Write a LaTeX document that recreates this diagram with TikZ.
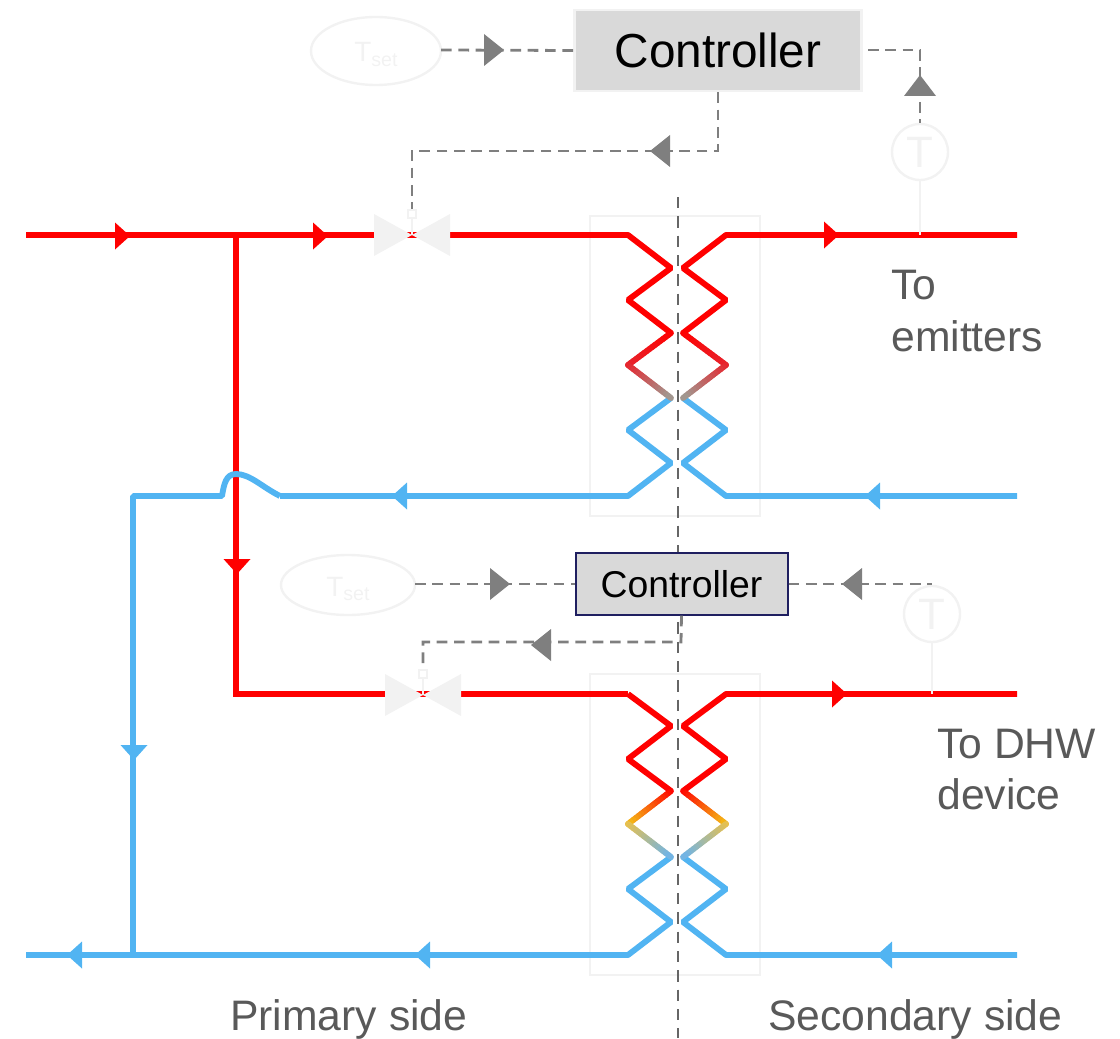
\documentclass[tikz,border=0pt]{standalone}
\usepackage{fontspec}
\setmainfont{Liberation Sans}
\usetikzlibrary{calc}
\definecolor{pipered}{HTML}{FF0000}
\definecolor{pipeblue}{HTML}{51B4F2}
\definecolor{ghost}{HTML}{F2F2F2}
\definecolor{ctlgray}{HTML}{D9D9D9}
\definecolor{sig}{HTML}{7F7F7F}
\definecolor{axisc}{HTML}{666666}
\definecolor{lab}{HTML}{595959}
\definecolor{navy}{HTML}{1F1F60}
\definecolor{warm}{HTML}{F4B916}
\definecolor{warmb}{HTML}{EAC04A}
\definecolor{hotm}{HTML}{E8222B}
\definecolor{midg}{HTML}{A09A92}
\definecolor{coolb}{HTML}{6FB4E8}
\newcommand{\RA}[3]{\fill[#3] (#1,#2) -- ++(-15,-13.5) -- ++(0,27) -- cycle;}
\newcommand{\LA}[3]{\fill[#3] (#1,#2) -- ++(15,-13.5) -- ++(0,27) -- cycle;}
\newcommand{\DA}[3]{\fill[#3] (#1,#2) -- ++(-13.5,-15) -- ++(27,0) -- cycle;}
\newcommand{\GR}[2]{\fill[sig] (#1,#2) -- ++(-20,-16) -- ++(0,32) -- cycle;}
\newcommand{\GL}[2]{\fill[sig] (#1,#2) -- ++(20,-16) -- ++(0,32) -- cycle;}
\newcommand{\GU}[2]{\fill[sig] (#1,#2) -- ++(-16,21) -- ++(32,0) -- cycle;}
\newcommand{\gradseg}[6]{%
  \foreach \i in {0,...,15}{%
    \pgfmathsetmacro{\ta}{\i/16}\pgfmathsetmacro{\tb}{(\i+1)/16}\pgfmathsetmacro{\pc}{100*(\i+0.5)/16}%
    \colorlet{segc}{#6!\pc!#5}%
    \draw[pipe,segc,line cap=round] ($(#1,#2)!\ta!(#3,#4)$) -- ($(#1,#2)!\tb!(#3,#4)$);
  }}
\newcommand{\valve}[3]{%
  \fill[ghost] (#1,#2) -- ++(-38,-21) -- ++(0,42) -- cycle;
  \fill[ghost] (#1,#2) -- ++(38,-21) -- ++(0,42) -- cycle;
  \draw[ghostline] (#1,#2) -- (#1,#2-16);
  \node[draw=ghost,fill=white,line width=1.5pt,minimum size=6pt,inner sep=0pt] (#3) at (#1,#2-21) {};}
\tikzset{
  x=0.75pt,y=-0.75pt,
  pipe/.style={line width=4.4pt,line join=bevel},
  hot/.style={pipe,pipered},
  cold/.style={pipe,pipeblue},
  signal/.style={sig,line width=2.1pt,dash pattern=on 8pt off 5pt},
  ghostline/.style={ghost,line width=1.8pt},
  hxbox/.style={ghost,line width=1.8pt},
  centre/.style={axisc,line width=2.1pt,dash pattern=on 8.5pt off 6pt},
  lbl/.style={anchor=base west,inner sep=0pt,lab,font=\fontsize{32}{36}\selectfont},
}
\begin{document}
\begin{tikzpicture}
\useasboundingbox (0,0) rectangle (1120,1038);
% heat-exchanger frames
\draw[hxbox] (590,216) rectangle (760,516);
\draw[hxbox] (590,674) rectangle (760,975);
% centre line
\coordinate (axT) at (678,197); \coordinate (axB) at (678,1038);
\draw[centre] (axT) -- (axB);
% red pipes
\coordinate (hotin) at (26,235); \coordinate (tee) at (236,235);
\coordinate (hx1a) at (628,235); \coordinate (hx1b) at (726,235); \coordinate (hotout1) at (1017,235);
\coordinate (corner) at (236,694); \coordinate (hx2a) at (628,694); \coordinate (hx2b) at (726,694); \coordinate (hotout2) at (1017,694);
\draw[hot] (hotin) -- (hx1a) -- (671,268) -- (628,300) -- (671,333);
\draw[hot] (hotout1) -- (hx1b) -- (683,268) -- (726,300) -- (683,333);
\draw[hot,line join=miter] (tee) -- (corner) -- (hx2a);
\draw[hot] (hx2a) -- (671,726) -- (628,759) -- (671,791);
\draw[hot] (hotout2) -- (hx2b) -- (683,726) -- (726,759) -- (683,791);
% blue pipes
\coordinate (coldin1) at (1017,496); \coordinate (hx1d) at (726,496); \coordinate (hx1c) at (628,496);
\coordinate (bumpA) at (280,496); \coordinate (bumpB) at (222,496); \coordinate (riser) at (133,496); \coordinate (rbase) at (133,955);
\coordinate (coldin2) at (1017,955); \coordinate (hx2d) at (726,955); \coordinate (hx2c) at (628,955); \coordinate (coldout) at (26,955);
\draw[cold] (coldin1) -- (hx1d) -- (683,463) -- (726,430) -- (683,398);
\draw[cold] (671,398) -- (628,430) -- (671,463) -- (hx1c) -- (bumpA);
\draw[cold] (bumpA) .. controls (262,487) and (250,474) .. (236,474) .. controls (226,474) and (224,484) .. (bumpB) -- (riser) -- (rbase);
\draw[cold] (coldin2) -- (hx2d) -- (683,922) -- (726,889) -- (683,857);
\draw[cold] (671,857) -- (628,889) -- (671,922) -- (hx2c) -- (coldout);
% blended coil segments
\gradseg{671}{333}{628}{365}{pipered}{hotm}
\gradseg{628}{365}{671}{398}{hotm}{midg}
\gradseg{683}{333}{726}{365}{pipered}{hotm}
\gradseg{726}{365}{683}{398}{hotm}{midg}
\gradseg{671}{791}{628}{824}{pipered}{warm}
\gradseg{628}{824}{671}{857}{warmb}{coolb}
\gradseg{683}{791}{726}{824}{pipered}{warm}
\gradseg{726}{824}{683}{857}{warmb}{coolb}
% flow arrows
\RA{130}{236}{pipered} \RA{328}{236}{pipered} \RA{839}{235}{pipered} \RA{847}{694}{pipered}
\DA{237}{574}{pipered}
\LA{392}{496}{pipeblue} \LA{865}{496}{pipeblue} \LA{415}{955}{pipeblue} \LA{67}{955}{pipeblue} \LA{877}{955}{pipeblue}
\DA{134}{760}{pipeblue}
% controllers
\node[draw=ghost,fill=ctlgray,line width=1.8pt,minimum width=215pt,minimum height=61pt,inner sep=0pt,font=\fontsize{35.8}{40}\selectfont] (ctlA) at (718,50.5) {Controller};
\node[draw=navy,fill=ctlgray,line width=1.5pt,minimum width=159pt,minimum height=46pt,inner sep=0pt,font=\fontsize{28}{32}\selectfont] (ctlB) at (681.5,584) {Controller};
% set-points
\draw[ghostline] (376,51) ellipse [x radius=65,y radius=34];
\draw[ghostline] (348,585) ellipse [x radius=67,y radius=30];
\node[ghost,inner sep=0pt,anchor=base west,font=\fontsize{21}{24}\selectfont] (tsetA) at (354,62) {T\textsubscript{set}};
\node[ghost,inner sep=0pt,anchor=base west,font=\fontsize{21}{24}\selectfont] (tsetB) at (326,596) {T\textsubscript{set}};
\coordinate (setA) at (441,50); \coordinate (setB) at (415,584);
% temperature sensors
\node[draw=ghost,line width=1.8pt,circle,minimum size=42pt,inner sep=0pt,text=ghost,font=\fontsize{33}{36}\selectfont] (sensA) at (920,152) {T};
\node[draw=ghost,line width=1.8pt,circle,minimum size=42pt,inner sep=0pt,text=ghost,font=\fontsize{33}{36}\selectfont] (sensB) at (932,614) {T};
\coordinate (tapA) at (920,235); \coordinate (tapB) at (932,694);
\draw[ghostline] (sensA) -- (tapA);
\draw[ghostline] (sensB) -- (tapB);
% valves
\valve{412}{235}{valveA}
\valve{423}{695}{valveB}
% control signals
\draw[signal] (setA) -- (ctlA.west);
\GR{504}{50}
\draw[signal] (868,50) -- (920,50) -- (sensA.north);
\GU{920}{75}
\draw[signal] (ctlA.south) -- (718,151) -- (412,151) -- (valveA.north);
\GL{650}{151}
\draw[signal] (setB) -- (ctlB.west);
\GR{510}{584}
\draw[signal] (ctlB.east) -- (932,584);
\GL{842}{584}
\draw[signal] (ctlB.south) -- (681,642) -- (423,642) -- (valveB.north);
\GL{531}{645}
% labels
\node[lbl] (l1) at (891,299) {To};
\node[lbl] (l2) at (891,351) {emitters};
\node[lbl] (l3) at (937,758) {To DHW};
\node[lbl] (l4) at (937,809) {device};
\node[lbl] (l5) at (230,1030) {Primary side};
\node[lbl] (l6) at (768,1030) {Secondary side};
\end{tikzpicture}
\end{document}
